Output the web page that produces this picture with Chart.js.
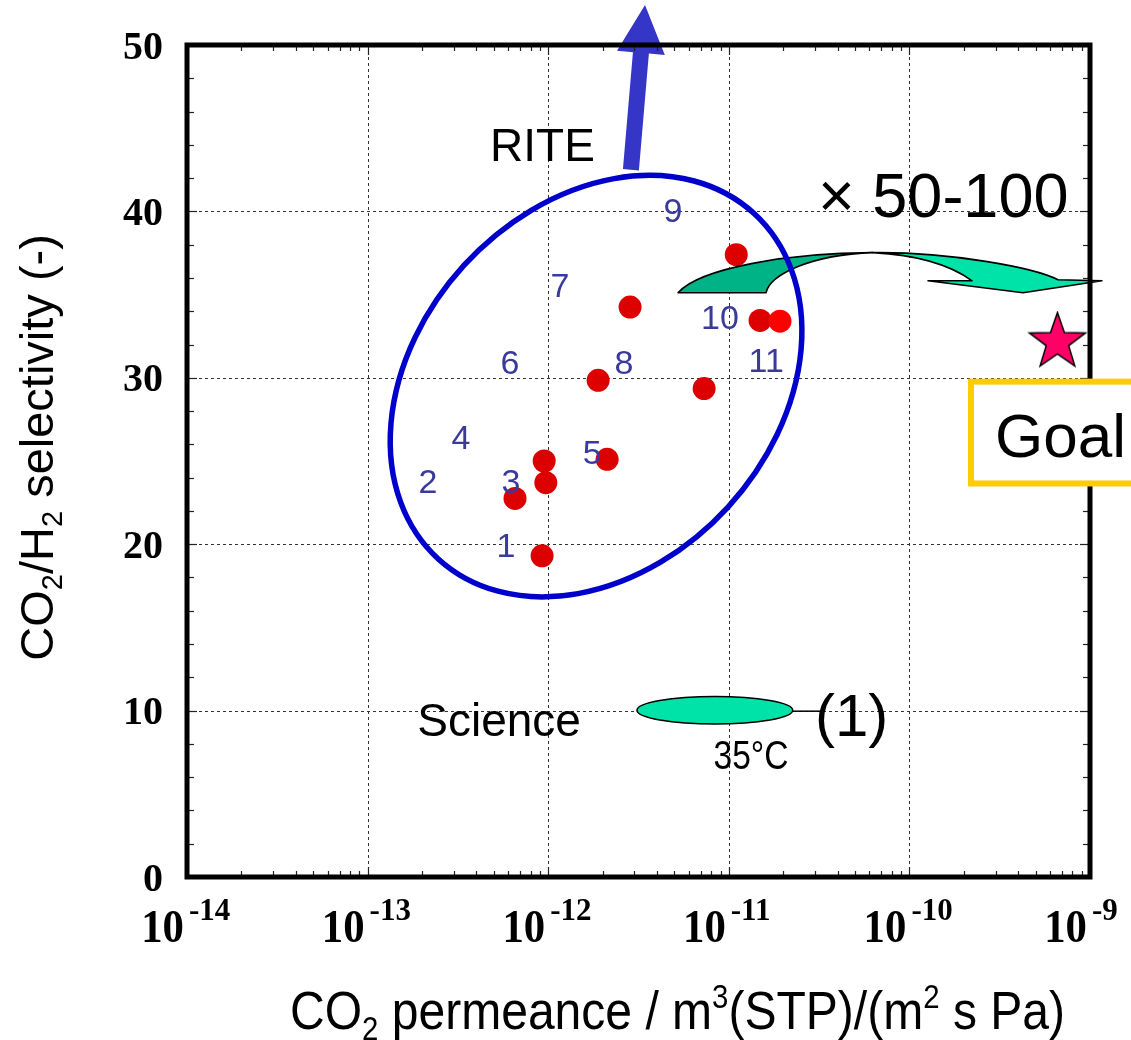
<!DOCTYPE html>
<html>
<head>
<meta charset="utf-8">
<title>CO2/H2 selectivity vs CO2 permeance</title>
<script src="https://cdn.jsdelivr.net/npm/chart.js@4.4.1/dist/chart.umd.min.js"></script>
<style>
  html, body { margin: 0; padding: 0; background: #fff; }
  canvas { display: block; }
</style>
</head>
<body>
<canvas id="chart" width="1131" height="1040"></canvas>
<script>
/* ==========================================
   Membrane plot — CO2/H2 selectivity
   ========================================== */

// measured membranes (RITE), m3(STP)/(m2 s Pa) vs selectivity (-)
const permeance   = [9.25e-13, 6.55e-13, 9.7e-13, 9.5e-13, 2.12e-12, 1.89e-12, 2.84e-12, 7.3e-12, 1.10e-11, 1.49e-11, 1.92e-11];
const selectivity = [19.3, 22.75, 23.7, 25.0, 25.1, 29.85, 34.25, 29.35, 37.4, 33.45, 33.4];

// target
const goalPermeance   = [6.6e-10];
const goalSelectivity = [32.15];

// Science (1), 35 C — range of the reported membrane
const scienceRangeX = [3.1e-12, 2.26e-11];
const scienceRangeY = [9.2, 10.85];

// axes
const xDecades = [-14, -13, -12, -11, -10, -9];
const yTicks   = [0, 10, 20, 30, 40, 50];

// reference numbers written next to the dots
const refNames = ['1', '2', '3', '4', '5', '6', '7', '8', '9', '10', '11'];
const refNameX = [5.83e-13, 2.16e-13, 6.22e-13, 3.29e-13, 1.75e-12, 6.14e-13, 1.16e-12, 2.63e-12, 4.91e-12, 8.93e-12, 1.61e-11];
const refNameY = [20.0, 23.8, 23.8, 26.5, 25.6, 31.0, 35.6, 31.0, 40.1, 33.7, 31.1];

const SANS = '"Liberation Sans", Arial, sans-serif';
const SERIF = '"Liberation Serif", "Times New Roman", serif';

// data (log10 x, y) -> canvas px
function P(chart, lx, y) {
  return [chart.scales.x.getPixelForValue(Math.pow(10, lx)), chart.scales.y.getPixelForValue(y)];
}

function line(ctx, x1, y1, x2, y2) {
  ctx.beginPath();
  ctx.moveTo(x1, y1);
  ctx.lineTo(x2, y2);
  ctx.stroke();
}

function makeStar(r, fill) {
  const c = document.createElement('canvas');
  const s = Math.ceil(r * 2 + 4);
  c.width = s; c.height = s;
  const g = c.getContext('2d');
  g.translate(s / 2, s / 2);
  g.beginPath();
  for (let i = 0; i < 10; i++) {
    const rr = i % 2 ? r * 0.4 : r;
    const ang = -Math.PI / 2 + i * Math.PI / 5;
    g.lineTo(rr * Math.cos(ang), rr * Math.sin(ang));
  }
  g.closePath();
  g.fillStyle = fill;
  g.fill();
  g.lineWidth = 1.5;
  g.strokeStyle = '#000';
  g.stroke();
  return c;
}

// text with sub/superscripts; squeeze < 1 condenses horizontally
function drawRich(ctx, parts, x, y, size, weight, squeeze) {
  const small = Math.round(size * 0.62);
  const fontOf = p => `${weight} ${p.sub || p.sup ? small : size}px ${SANS}`;
  ctx.save();
  ctx.translate(x, y);
  ctx.scale(squeeze, 1);
  let cx = 0;
  ctx.textAlign = 'left';
  ctx.textBaseline = 'alphabetic';
  parts.forEach(p => {
    ctx.font = fontOf(p);
    const dy = p.sub ? size * 0.2 : p.sup ? -size * 0.38 : 0;
    ctx.fillText(p.t, cx, dy);
    cx += ctx.measureText(p.t).width;
  });
  ctx.restore();
}

function richWidth(ctx, parts, size, weight) {
  const small = Math.round(size * 0.62);
  let w = 0;
  ctx.save();
  parts.forEach(p => {
    ctx.font = `${weight} ${p.sub || p.sup ? small : size}px ${SANS}`;
    w += ctx.measureText(p.t).width;
  });
  ctx.restore();
  return w;
}

function drawGrid(chart) {
  const { ctx, chartArea: a, scales: { x, y } } = chart;
  ctx.save();
  ctx.strokeStyle = '#333';
  ctx.lineWidth = 1;
  ctx.setLineDash([3, 3]);
  xDecades.slice(1, -1).forEach(e => {
    const px = Math.round(x.getPixelForValue(Math.pow(10, e))) + 0.5;
    line(ctx, px, a.top, px, a.bottom);
  });
  yTicks.slice(1, -1).forEach(v => {
    const py = Math.round(y.getPixelForValue(v)) + 0.5;
    line(ctx, a.left, py, a.right, py);
  });
  ctx.restore();
}

function drawTealArrow(chart) {
  const { ctx } = chart;
  const p = (lx, y) => P(chart, lx, y);
  ctx.save();
  ctx.lineWidth = 1.6;
  ctx.strokeStyle = '#000';
  ctx.lineJoin = 'round';

  // light front part with the head
  ctx.beginPath();
  ctx.moveTo(...p(-10.202, 37.52));
  ctx.bezierCurveTo(...p(-9.775, 37.58), ...p(-9.305, 36.61), ...p(-9.177, 35.89));
  ctx.lineTo(...p(-8.934, 35.83));
  ctx.lineTo(...p(-9.371, 35.11));
  ctx.lineTo(...p(-9.897, 35.83));
  ctx.lineTo(...p(-9.653, 35.83));
  ctx.bezierCurveTo(...p(-9.775, 36.79), ...p(-9.969, 37.39), ...p(-10.202, 37.52));
  ctx.closePath();
  ctx.fillStyle = '#00E3A8';
  ctx.fill();
  ctx.stroke();

  // dark back part
  ctx.beginPath();
  ctx.moveTo(...p(-11.281, 35.11));
  ctx.bezierCurveTo(...p(-11.159, 36.61), ...p(-10.661, 37.52), ...p(-10.202, 37.52));
  ctx.bezierCurveTo(...p(-10.550, 37.39), ...p(-10.772, 36.19), ...p(-10.794, 35.11));
  ctx.closePath();
  ctx.fillStyle = '#00B386';
  ctx.fill();
  ctx.stroke();
  ctx.restore();
}

function drawRiteEllipse(chart) {
  const { ctx } = chart;
  const [cx, cy] = P(chart, -11.735, 29.5);
  ctx.save();
  ctx.beginPath();
  ctx.ellipse(cx, cy, 234, 179, -47.6 * Math.PI / 180, 0, Math.PI * 2);
  ctx.lineWidth = 5.5;
  ctx.strokeStyle = '#0000CC';
  ctx.stroke();
  ctx.restore();
}

function drawBlueArrow(chart) {
  const { ctx } = chart;
  const [bx, by] = P(chart, -11.542, 42.5);
  const [tx, ty] = P(chart, -11.464, 52.4);
  const len = Math.hypot(tx - bx, ty - by);
  const ang = Math.atan2(ty - by, tx - bx);
  const shaft = 8, head = 24, headLen = 48;
  ctx.save();
  ctx.translate(bx, by);
  ctx.rotate(ang);
  ctx.beginPath();
  ctx.moveTo(0, -shaft);
  ctx.lineTo(len - headLen, -shaft);
  ctx.lineTo(len - headLen, -head);
  ctx.lineTo(len, 0);
  ctx.lineTo(len - headLen, head);
  ctx.lineTo(len - headLen, shaft);
  ctx.lineTo(0, shaft);
  ctx.closePath();
  ctx.fillStyle = '#3535C8';
  ctx.fill();
  ctx.restore();
}

function drawAnnotations(chart) {
  const { ctx, scales: { x, y } } = chart;
  ctx.save();

  // reference numbers
  ctx.fillStyle = '#3A3A9C';
  ctx.font = `34px ${SANS}`;
  ctx.textAlign = 'center';
  ctx.textBaseline = 'alphabetic';
  refNames.forEach((n, i) => {
    ctx.fillText(n, x.getPixelForValue(refNameX[i]), y.getPixelForValue(refNameY[i]) + 12.5);
  });

  ctx.fillStyle = '#000';
  ctx.textAlign = 'left';
  ctx.font = `46px ${SANS}`;
  let [tx, ty] = P(chart, -12.322, 43.0);
  ctx.fillText('RITE', tx, ty);

  ctx.font = `63px ${SANS}`;
  [tx, ty] = P(chart, -10.506, 39.68);
  ctx.fillText('\u00D7 50-100', tx, ty);

  // Science (1) membrane
  const x0 = x.getPixelForValue(scienceRangeX[0]);
  const x1 = x.getPixelForValue(scienceRangeX[1]);
  const y0 = y.getPixelForValue(scienceRangeY[0]);
  const y1 = y.getPixelForValue(scienceRangeY[1]);
  const cyS = (y0 + y1) / 2;
  ctx.strokeStyle = '#000';
  ctx.lineWidth = 1.5;
  const [lx2] = P(chart, -10.484, 10);
  line(ctx, x1, cyS + 1, lx2, cyS + 1);
  ctx.beginPath();
  ctx.ellipse((x0 + x1) / 2, cyS, (x1 - x0) / 2, (y0 - y1) / 2, 0, 0, Math.PI * 2);
  ctx.fillStyle = '#00E3A8';
  ctx.fill();
  ctx.stroke();

  ctx.fillStyle = '#000';
  ctx.font = `46px ${SANS}`;
  ctx.textAlign = 'center';
  [tx, ty] = P(chart, -12.272, 8.46);
  ctx.fillText('Science', tx, ty);

  ctx.textAlign = 'left';
  ctx.font = `60px ${SANS}`;
  [tx, ty] = P(chart, -10.523, 8.46);
  ctx.fillText('(1)', tx, ty);

  [tx, ty] = P(chart, -10.877, 6.48);
  ctx.save();
  ctx.translate(tx, ty);
  ctx.scale(0.84, 1);
  ctx.font = `40px ${SANS}`;
  ctx.textAlign = 'center';
  ctx.fillText('35\u00B0C', 0, 0);
  ctx.restore();

  ctx.restore();
}

function drawFrame(chart) {
  const { ctx, chartArea: a, scales: { x, y } } = chart;
  ctx.save();
  ctx.strokeStyle = '#222';
  ctx.lineWidth = 1.2;
  // minor x ticks, inward on bottom and top
  for (let e = xDecades[0]; e < xDecades[xDecades.length - 1]; e++) {
    for (let k = 1; k <= 9; k++) {
      const px = Math.round(x.getPixelForValue(k * Math.pow(10, e))) + 0.5;
      const len = k === 1 ? 10 : 6;
      line(ctx, px, a.bottom, px, a.bottom - len);
      line(ctx, px, a.top, px, a.top + len);
    }
  }
  // y ticks every 2, inward on left and right
  for (let v = 0; v <= 50; v += 2) {
    const py = Math.round(y.getPixelForValue(v)) + 0.5;
    const len = v % 10 === 0 ? 10 : 7;
    line(ctx, a.left, py, a.left + len, py);
    line(ctx, a.right, py, a.right - len, py);
  }
  ctx.strokeStyle = '#000';
  ctx.lineWidth = 5;
  ctx.strokeRect(a.left, a.top, a.right - a.left, a.bottom - a.top);
  ctx.restore();
}

function drawAxisLabels(chart) {
  const { ctx, chartArea: a, scales: { x, y } } = chart;
  ctx.save();
  ctx.fillStyle = '#000';

  // y tick labels
  ctx.font = `bold 40px ${SERIF}`;
  ctx.textAlign = 'right';
  ctx.textBaseline = 'alphabetic';
  yTicks.forEach(v => ctx.fillText(String(v), a.left - 24, y.getPixelForValue(v) + 13.5));

  // x tick labels 10^n
  xDecades.forEach(e => {
    const px = x.getPixelForValue(Math.pow(10, e));
    ctx.save();
    ctx.translate(px - 3, a.bottom + 65);
    ctx.scale(0.93, 1);
    ctx.font = `bold 46px ${SERIF}`;
    ctx.textAlign = 'right';
    ctx.fillText('10', 0, 0);
    ctx.restore();
    ctx.font = `bold 31px ${SERIF}`;
    ctx.textAlign = 'left';
    ctx.fillText('-' + Math.abs(e), px + 2, a.bottom + 43);
  });

  // x title
  const xTitle = [
    { t: 'CO' }, { t: '2', sub: true }, { t: ' permeance / m' }, { t: '3', sup: true },
    { t: '(STP)/(m' }, { t: '2', sup: true }, { t: ' s Pa)' }
  ];
  const targetW = 775;
  const w = richWidth(ctx, xTitle, 54, 'normal');
  drawRich(ctx, xTitle, a.left + 103, a.bottom + 152, 54, 'normal', targetW / w);

  // y title, rotated
  const yTitle = [
    { t: 'CO' }, { t: '2', sub: true }, { t: '/H' }, { t: '2', sub: true }, { t: ' selectivity (-)' }
  ];
  ctx.save();
  ctx.translate(a.left - 134, y.getPixelForValue(13));
  ctx.rotate(-Math.PI / 2);
  drawRich(ctx, yTitle, 0, 0, 47, 'normal', 1);
  ctx.restore();

  ctx.restore();
}

function drawGoalBox(chart) {
  const { ctx, width } = chart;
  const [bx, by0] = P(chart, -9.659, 29.77);
  const [, by1] = P(chart, -9.659, 23.65);
  ctx.save();
  ctx.fillStyle = '#fff';
  ctx.fillRect(bx, by0, width - bx + 20, by1 - by0);
  ctx.strokeStyle = '#FFCC00';
  ctx.lineWidth = 6;
  ctx.strokeRect(bx, by0, width - bx + 20, by1 - by0);
  ctx.fillStyle = '#000';
  ctx.font = `62px ${SANS}`;
  ctx.textAlign = 'left';
  const [tx, ty] = P(chart, -9.526, 25.27);
  ctx.fillText('Goal', tx, ty);
  ctx.restore();
}

const figurePlugin = {
  id: 'figure',
  beforeDatasetsDraw(chart) {
    drawGrid(chart);
  },
  afterDatasetsDraw(chart) {
    drawTealArrow(chart);
    drawRiteEllipse(chart);
    drawBlueArrow(chart);
    drawAnnotations(chart);
    drawFrame(chart);
    drawAxisLabels(chart);
    drawGoalBox(chart);
  }
};

const starImage = makeStar(29.5, '#FF0066');

new Chart(document.getElementById('chart'), {
  type: 'scatter',
  data: {
    datasets: [
      {
        label: 'RITE',
        data: permeance.map((v, i) => ({ x: v, y: selectivity[i] })),
        backgroundColor: ctx => ctx.dataIndex === 10 ? '#FF0000' : '#DD0000',
        borderWidth: 0,
        pointRadius: 11.5,
        pointHoverRadius: 11.5,
      },
      {
        label: 'Goal',
        data: goalPermeance.map((v, i) => ({ x: v, y: goalSelectivity[i] })),
        pointStyle: starImage,
        pointRadius: 30,
      }
    ]
  },
  options: {
    responsive: false,
    animation: false,
    events: [],
    layout: { padding: { left: 187, top: 45, right: 41, bottom: 163 } },
    scales: {
      x: { type: 'logarithmic', min: 1e-14, max: 1e-9, display: false },
      y: { type: 'linear', min: 0, max: 50, display: false }
    },
    plugins: {
      legend: { display: false },
      tooltip: { enabled: false }
    }
  },
  plugins: [figurePlugin]
});
</script>
</body>
</html>
